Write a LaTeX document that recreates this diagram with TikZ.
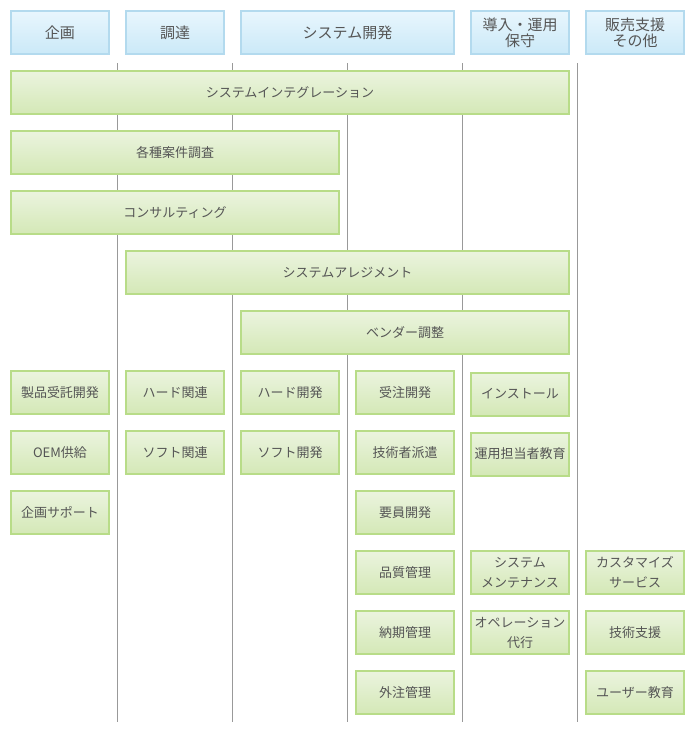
\documentclass[tikz,border=0pt]{standalone}
\usepackage{fontspec}
\setmainfont{Noto Sans CJK JP}
\usetikzlibrary{shadings}
\definecolor{headtop}{HTML}{E8F6FD}
\definecolor{headbot}{HTML}{CBE9F8}
\definecolor{headline}{HTML}{B3DAEE}
\definecolor{itemtop}{HTML}{EBF4DF}
\definecolor{itembot}{HTML}{D4E8B6}
\definecolor{itemline}{HTML}{B8DC88}
\definecolor{labeltxt}{HTML}{555555}
\tikzset{
  head/.style={draw=headline, line width=2pt, top color=headtop, bottom color=headbot,
    minimum width=#1, minimum height=43pt, inner sep=0pt, align=center,
    text=labeltxt, font=\fontsize{15}{16}\selectfont},
  head/.default=98pt,
  item/.style={draw=itemline, line width=2pt, top color=itemtop, bottom color=itembot,
    minimum width=#1, minimum height=43pt, inner sep=0pt, align=center,
    text=labeltxt, font=\fontsize{13}{20}\selectfont},
  item/.default=98pt
}
\begin{document}
\begin{tikzpicture}[x=1pt,y=-1pt]
    \useasboundingbox (0,0) rectangle (700,740);
    %separateurs
    \foreach \x in {117,232,347,462,577}
        \draw [gray!80] (\x,63) -- (\x,722);
    %en-tetes
    \node[head] (kikaku) at (60,32.5) {企画};
    \node[head] (chotatsu) at (175,32.5) {調達};
    \node[head=213pt] (kaihatsu) at (347.5,32.5) {システム開発};
    \node[head] (unyo) at (520,32.5) {導入・運用\\保守};
    \node[head] (hanbai) at (635,32.5) {販売支援\\その他};
    %barres
    \node[item=558pt] (si) at (290,92.5) {システムインテグレーション};
    \node[item=328pt] (chosa) at (175,152.5) {各種案件調査};
    \node[item=328pt] (consul) at (175,212.5) {コンサルティング};
    \node[item=443pt] (arrange) at (347.5,272.5) {システムアレジメント};
    \node[item=328pt] (vendor) at (405,332.5) {ベンダー調整};
    %colonne 1
    \node[item] (seihin) at (60,392.5) {製品受託開発};
    \node[item] (oem) at (60,452.5) {OEM供給};
    \node[item] (support) at (60,512.5) {企画サポート};
    %colonne 2
    \node[item] (hardkan) at (175,392.5) {ハード関連};
    \node[item] (softkan) at (175,452.5) {ソフト関連};
    %colonne 3
    \node[item] (hardkai) at (290,392.5) {ハード開発};
    \node[item] (softkai) at (290,452.5) {ソフト開発};
    %colonne 4
    \node[item] (juchu) at (405,392.5) {受注開発};
    \node[item] (haken) at (405,452.5) {技術者派遣};
    \node[item] (yoin) at (405,512.5) {要員開発};
    \node[item] (hinshitsu) at (405,572.5) {品質管理};
    \node[item] (noki) at (405,632.5) {納期管理};
    \node[item] (gaichu) at (405,692.5) {外注管理};
    %colonne 5
    \node[item] (install) at (520,394) {インストール};
    \node[item] (kyoiku) at (520,454) {運用担当者教育};
    \node[item] (mainte) at (520,572.5) {システム\\メンテナンス};
    \node[item] (daiko) at (520,632.5) {オペレーション\\代行};
    %colonne 6
    \node[item] (custom) at (635,572.5) {カスタマイズ\\サービス};
    \node[item] (shien) at (635,632.5) {技術支援};
    \node[item] (user) at (635,692.5) {ユーザー教育};
\end{tikzpicture}
\end{document}
